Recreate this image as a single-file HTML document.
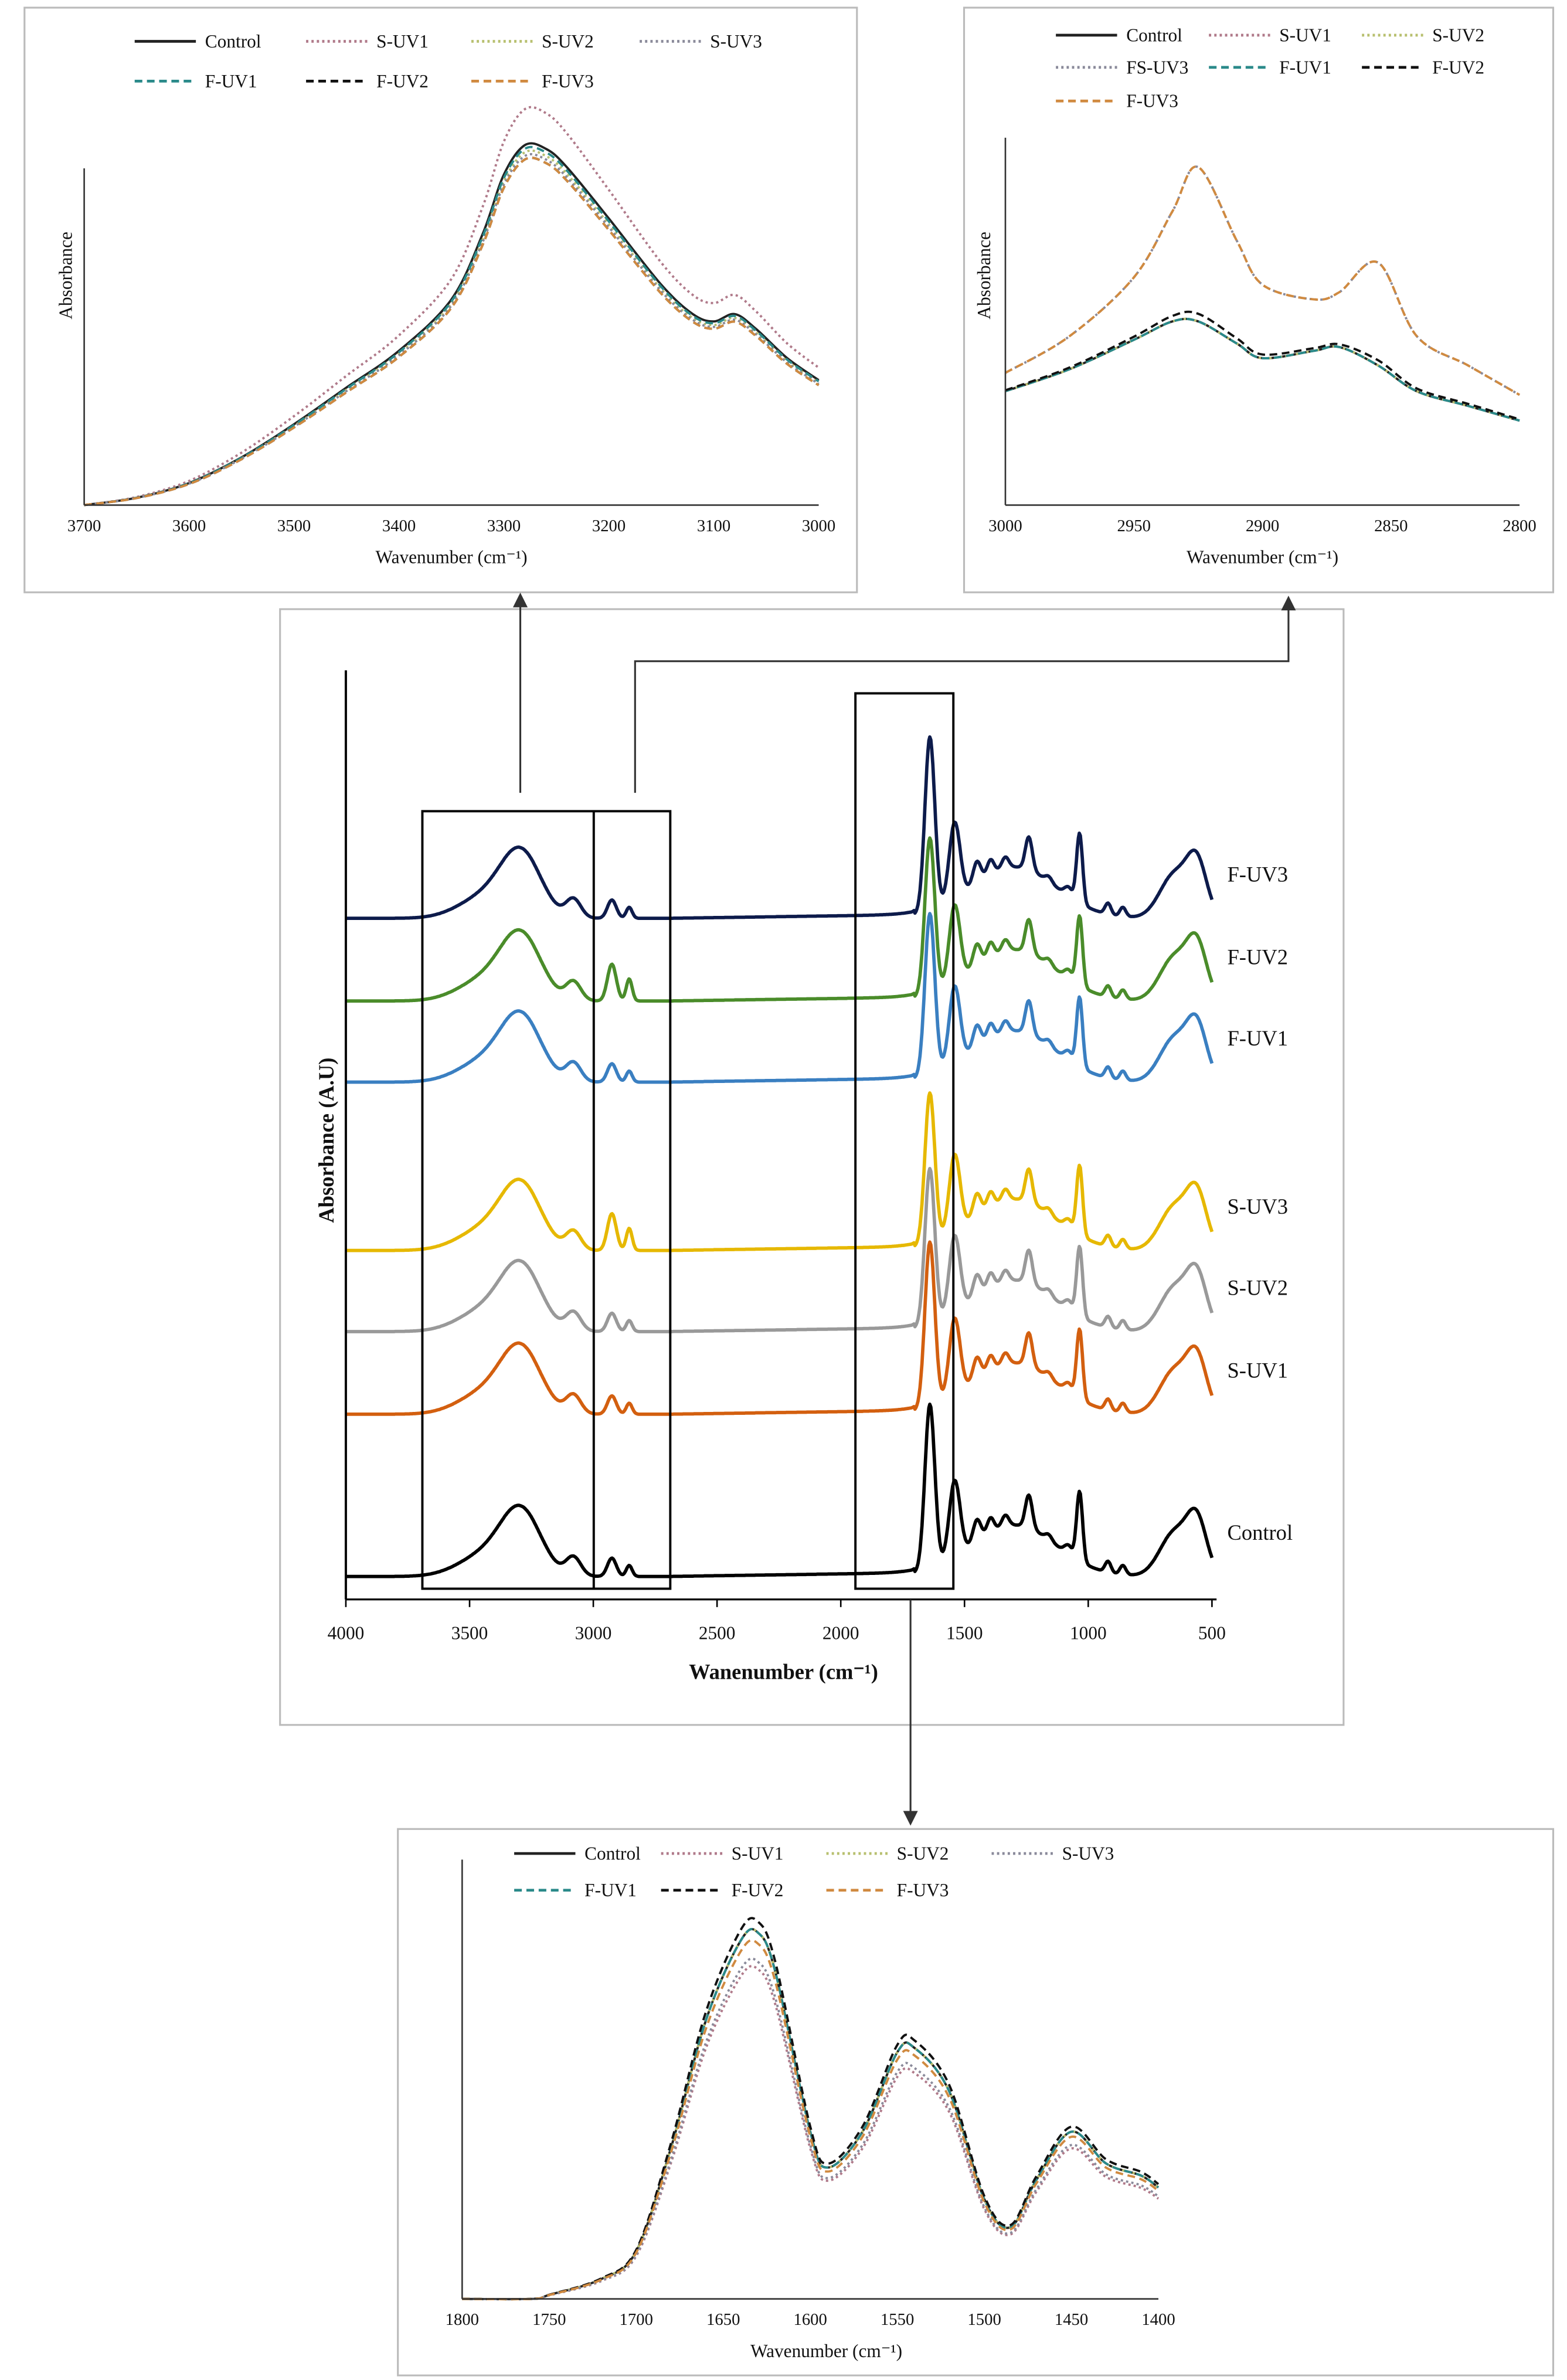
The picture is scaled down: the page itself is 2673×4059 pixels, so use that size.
<!DOCTYPE html>
<html><head><meta charset="utf-8"><style>
html,body{margin:0;padding:0;background:#fff}
svg{display:block}
text{font-family:"Liberation Serif",serif;fill:#111}
</style></head><body>
<svg id="fig" width="2673" height="4059" viewBox="0 0 1024 1555" xmlns="http://www.w3.org/2000/svg">
<defs><marker id="ah" markerWidth="8" markerHeight="8" refX="4" refY="4" orient="auto"><path d="M0,0 L8,4 L0,8 z" fill="#333"/></marker></defs>
</svg>
<script>
// ===== main spectrum data =====
const seriesNames=["F-UV3","F-UV2","F-UV1","S-UV3","S-UV2","S-UV1","Control"];
const seriesColors=["#0d1b4b","#4a8c2a","#3a7fc1","#e6b800","#999999","#d35f0f","#000000"];
const seriesBaselines=[600,654,707,817,870,924,1030];
const ch2Heights=[0.10,0.20,0.10,0.20,0.10,0.10,0.10];
const amideHeights=[0.95,0.85,0.88,0.82,0.85,0.9,0.9];
const peakCenters=[3290,3430,3080,2925,2855,1640,1540,1300,1450,1395,1335,1240,1160,1080,1035,920,860,650,560];
const peakHeights=[0.33,0.12,0.10,0.10,0.06,1.0,0.42,0.28,0.12,0.08,0.06,0.18,0.03,0.05,0.38,0.06,0.05,0.24,0.28];
const peakWidths=[80,110,30,18,12,20,22,170,16,14,14,14,14,16,12,12,12,60,40];
const mainTicks=[4000,3500,3000,2500,2000,1500,1000,500];
// ===== inset data =====
const insetNames=["Control","S-UV1","S-UV2","S-UV3","F-UV1","F-UV2","F-UV3"];
const insetColors=["#222","#b07a8a","#b8c070","#8a8a9a","#2a8a8a","#111","#d08a40"];
const insetDash=["","1.5,2","1.5,2","1.5,2","5,3","5,3","5,3"];
const ohWave=[3700,3650,3600,3550,3500,3450,3400,3350,3320,3300,3280,3260,3240,3200,3150,3120,3100,3080,3060,3030,3000];
const ohBase=[0,0.02,0.06,0.13,0.22,0.32,0.42,0.56,0.74,0.9,0.98,0.97,0.92,0.78,0.6,0.52,0.5,0.52,0.48,0.40,0.34];
const ohScale=[1.0,1.1,0.98,0.97,0.99,0.96,0.96];
const ohTicks=[3700,3600,3500,3400,3300,3200,3100,3000];
const chWave=[3000,2975,2950,2935,2925,2910,2900,2880,2870,2855,2840,2820,2800];
const chLow=[0.31,0.37,0.45,0.50,0.50,0.44,0.40,0.42,0.43,0.38,0.31,0.27,0.23];
const chHigh=[0.36,0.46,0.62,0.80,0.92,0.72,0.60,0.56,0.58,0.66,0.46,0.38,0.30];
const chMix=[0,0,0,1,0,0.05,1];
const chTicks=[3000,2950,2900,2850,2800];
const amWave=[1800,1760,1750,1720,1700,1680,1660,1640,1630,1620,1600,1590,1570,1550,1540,1520,1500,1485,1470,1450,1430,1410,1400];
const amBase=[0,0,0.01,0.05,0.12,0.38,0.7,0.9,0.92,0.82,0.42,0.33,0.42,0.62,0.63,0.52,0.25,0.18,0.30,0.42,0.34,0.31,0.28];
const amScale=[1.0,0.9,1.0,0.92,1.0,1.03,0.97];
const amTicks=[1800,1750,1700,1650,1600,1550,1500,1450,1400];

const svg=document.getElementById('fig');
const NS="http://www.w3.org/2000/svg";
function el(tag,attrs,parent){const e=document.createElementNS(NS,tag);for(const k in attrs)e.setAttribute(k,attrs[k]);(parent||svg).appendChild(e);return e;}
function txt(x,y,s,size,anchor,parent,extra){const t=el('text',Object.assign({x:x,y:y,'font-size':size,'text-anchor':anchor||'start'},extra||{}),parent);t.textContent=s;return t;}
function smooth(pts){let d='M'+pts[0][0].toFixed(1)+','+pts[0][1].toFixed(1);for(let i=0;i<pts.length-1;i++){const p0=pts[Math.max(0,i-1)],p1=pts[i],p2=pts[i+1],p3=pts[Math.min(pts.length-1,i+2)];
const c1=[p1[0]+(p2[0]-p0[0])/6,p1[1]+(p2[1]-p0[1])/6],c2=[p2[0]-(p3[0]-p1[0])/6,p2[1]-(p3[1]-p1[1])/6];
d+='C'+c1[0].toFixed(1)+','+c1[1].toFixed(1)+' '+c2[0].toFixed(1)+','+c2[1].toFixed(1)+' '+p2[0].toFixed(1)+','+p2[1].toFixed(1);}return d;}

const boxes=[[16,5,544,382,'oh-inset-frame'],[630,5,385,382,'ch-inset-frame'],[183,398,695,729,'main-chart-frame'],[260,1195,755,357,'amide-inset-frame']];
boxes.forEach(b=>{const r=el('rect',{x:b[0],y:b[1],width:b[2],height:b[3],fill:'none',stroke:'#bbb','stroke-width':1.2});

});

// ===== main chart =====
const gm=el('g',{});


const mx=w=>226+(4000-w)/3500*566;
function spec(w,i){let v=0;for(let k=0;k<peakCenters.length;k++){let h=peakHeights[k];if(k===3)h=ch2Heights[i];if(k===4)h=ch2Heights[i]*0.6;if(k===5)h=amideHeights[i];const d=(w-peakCenters[k])/peakWidths[k];v+=h*Math.exp(-d*d/2);}
if(w<2700&&w>1700)v+=0.02*(2700-w)/1000;return v;}
seriesNames.forEach((n,i)=>{let d='';for(let w=4000;w>=500;w-=4){const y=seriesBaselines[i]-spec(w,i)*120;d+=(w===4000?'M':'L')+mx(w).toFixed(1)+','+y.toFixed(1);}
const p=el('path',{d:d,fill:'none',stroke:seriesColors[i],'stroke-width':2.2,'stroke-linejoin':'round'},gm);


const t=txt(802,seriesBaselines[i]-24,n,14,'start',gm);

});
el('line',{x1:226,y1:438,x2:226,y2:1045,stroke:'#000','stroke-width':1.5},gm);
el('line',{x1:226,y1:1045,x2:795,y2:1045,stroke:'#000','stroke-width':1.2},gm);
mainTicks.forEach(t=>{el('line',{x1:mx(t),y1:1045,x2:mx(t),y2:1050,stroke:'#000'},gm);const l=txt(mx(t),1071,String(t),12,'middle',gm);

});
const xt=txt(512,1097,'Wanenumber (cm⁻¹)',14,'middle',gm,{'font-weight':'bold'});


const yt=txt(0,0,'Absorbance (A.U)',14,'middle',gm,{'font-weight':'bold',transform:'translate(218,745) rotate(-90)'});


el('rect',{x:276,y:530,width:162,height:508,fill:'none',stroke:'#000','stroke-width':1.5},gm);
el('line',{x1:388,y1:530,x2:388,y2:1038,stroke:'#000','stroke-width':1.5},gm);
el('rect',{x:559,y:453,width:64,height:585,fill:'none',stroke:'#000','stroke-width':1.5},gm);
el('line',{x1:340,y1:518,x2:340,y2:392,stroke:'#333','stroke-width':1.2,'marker-end':'url(#ah)'},gm);
el('polyline',{points:'415,518 415,432 842,432 842,394',fill:'none',stroke:'#333','stroke-width':1.2,'marker-end':'url(#ah)'},gm);
el('line',{x1:595,y1:1045,x2:595,y2:1188,stroke:'#333','stroke-width':1.2,'marker-end':'url(#ah)'},gm);

function inset(name,x0,x1,y0,y1,wmax,wmin,ticks,waves,getVals,legend,xtitleX,ytitleX,ytitleY,pixScale){
const g=el('g',{});


const sx=w=>x0+(wmax-w)/(wmax-wmin)*(x1-x0);
insetNames.forEach((n,i)=>{const v=getVals(i);const pts=waves.map((w,k)=>[sx(w),y1-v[k]*pixScale]);
const p=el('path',{d:smooth(pts),fill:'none',stroke:insetColors[i],'stroke-width':1.5,'stroke-dasharray':insetDash[i],'stroke-linejoin':'round'},g);

});
el('line',{x1:x0,y1:y0,x2:x0,y2:y1,stroke:'#333'},g);
el('line',{x1:x0,y1:y1,x2:x1,y2:y1,stroke:'#333'},g);
ticks.forEach(t=>{const l=txt(sx(t),y1+17,String(t),11,'middle',g);

});
const xtl=txt(xtitleX,y1+38,'Wavenumber (cm⁻¹)',12,'middle',g);


const ytl=txt(0,0,'Absorbance',12,'middle',g,{transform:'translate('+ytitleX+','+ytitleY+') rotate(-90)'});


legend.forEach(e=>{const i=e[0];el('line',{x1:e[1],y1:e[2]-4,x2:e[1]+40,y2:e[2]-4,stroke:insetColors[i],'stroke-width':1.8,'stroke-dasharray':insetDash[i]},g);
const lt=txt(e[1]+46,e[2],e[3]||insetNames[i],12,'start',g);

});
}
inset('oh-inset',55,535,110,330,3700,3000,ohTicks,ohWave,i=>ohBase.map(v=>v*ohScale[i]),
[[0,88,31],[1,200,31],[2,308,31],[3,418,31],[4,88,57],[5,200,57],[6,308,57]],295,47,180,240);
inset('ch-inset',657,993,90,330,3000,2800,chTicks,chWave,i=>chLow.map((v,k)=>v+(chHigh[k]-v)*chMix[i]),
[[0,690,27],[1,790,27],[2,890,27],[3,690,48,'FS-UV3'],[4,790,48],[5,890,48],[6,690,70]],825,647,180,240);
inset('amide-inset',302,757,1215,1502,1800,1400,amTicks,amWave,i=>amBase.map(v=>v*amScale[i]),
[[0,336,1215],[1,432,1215],[2,540,1215],[3,648,1215],[4,336,1239],[5,432,1239],[6,540,1239]],540,1268,1360,260);
</script>
</body></html>
